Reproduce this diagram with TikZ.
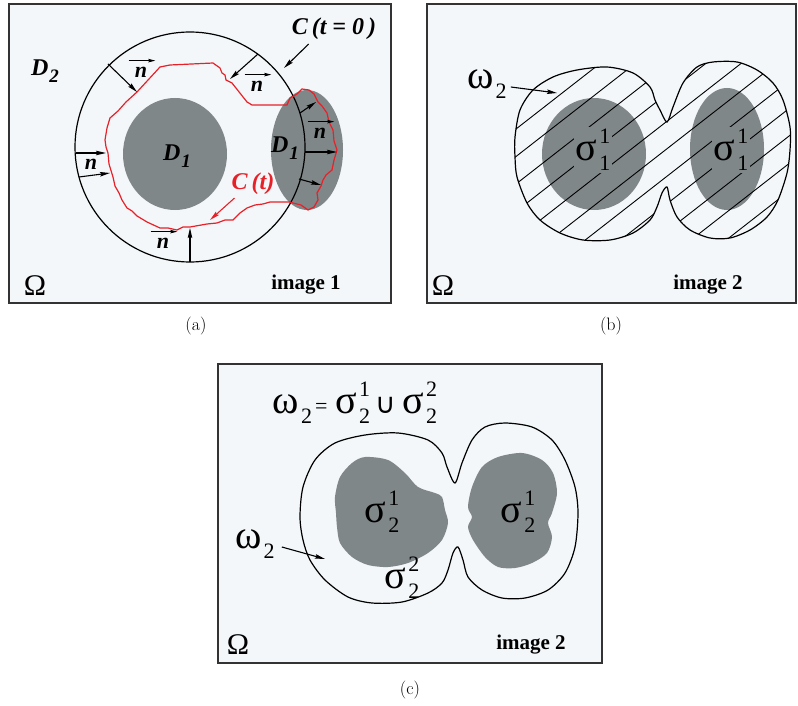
\documentclass[tikz,border=0pt]{standalone}
\usepackage{fontspec}
\newfontfamily\tms{Liberation Serif}
\newfontfamily\dvs{DejaVu Sans}
\usetikzlibrary{arrows.meta}
\definecolor{pbg}{RGB}{244,247,249}
\definecolor{pgray}{RGB}{128,135,137}
\definecolor{pred}{RGB}{232,32,40}
\newcommand{\fs}[1]{\fontsize{#1}{#1}\selectfont}
% greek letter with stacked indices
\newcommand{\grk}[3]{#1\kern2pt\rlap{\raisebox{0.42em}{\fs{22}#2}}\raisebox{-0.26em}{\fs{22}#3}}
\newcommand{\dsub}[2]{#1\kern1pt\raisebox{-0.3em}{\fs{19}#2}}

\begin{document}
\begin{tikzpicture}[x=1pt, y=-1pt,
  panel/.style={draw=black!80, line width=1.5pt, fill=pbg},
  region/.style={fill=pgray},
  outline/.style={draw=black, line width=1.2pt},
  lbl/.style={font=\tms\bfseries\itshape\fs{24}, inner sep=0pt},
  corner/.style={font=\tms\fs{30}, inner sep=0pt},
  tag/.style={font=\tms\bfseries\fs{21}, inner sep=0pt},
  grk/.style={font=\tms\fs{40}, inner sep=0pt},
  subcap/.style={font=\fs{18}, inner sep=0pt},
  arr/.style={-{Stealth[length=10pt,width=4.5pt,inset=1.5pt]}, line width=1.1pt},
  vec/.style={-{Stealth[length=7pt,width=3.5pt,inset=1pt]}, line width=0.9pt},
  nv/.style={lbl, font=\tms\bfseries\itshape\fs{22},
    append after command={([xshift=-6pt,yshift=6pt]\tikzlastnode.north west)
      edge[vec] ([xshift=8pt,yshift=6pt]\tikzlastnode.north east)}},
  hatch/.style={line width=0.9pt}
]
\useasboundingbox (0,0) rectangle (798,706);

% ---------- (a) image 1
\draw[panel] (9,4) rectangle (391,303);
\fill[region] (175,154) ellipse [x radius=52pt, y radius=56pt];
\fill[region] (307,150) ellipse [x radius=36pt, y radius=60pt];
\draw[outline] (190,147) circle [radius=115pt];
\draw[pred, line width=1.2pt] (137,92) -- (160,67) -- (170,65) -- (213,63) -- (220,68)
  -- (222,73) -- (225,75) -- (226,80) -- (232,83) -- (247,102) -- (252,105) -- (287,105)
  -- (290,98) -- (297,94) -- (302,89) -- (309,90) -- (314,94) -- (318,102) -- (322,106)
  -- (327,113) -- (329,122) -- (333,130) -- (334,141) -- (337,150) -- (334,160) -- (332,170)
  -- (326,175) -- (323,180) -- (321,186) -- (317,193) -- (318,200) -- (314,207) -- (308,210)
  -- (301,205) -- (293,203) -- (290,202) -- (270,202) -- (263,204) -- (255,205) -- (247,208)
  -- (240,213) -- (233,220) -- (225,220) -- (217,223) -- (207,224) -- (190,227) -- (183,227)
  -- (177,230) -- (168,228) -- (160,228) -- (147,222) -- (137,216) -- (132,211) -- (127,208)
  -- (122,200) -- (119,193) -- (115,186) -- (113,177) -- (109,164) -- (108,153) -- (106,147)
  -- (105,140) -- (107,128) -- (110,118) -- (118,111) -- (126,102) -- cycle;

\coordinate (c1) at (108,64);  \coordinate (r1) at (137,92);
\coordinate (c2) at (258,54);  \coordinate (r2) at (230,79);
\coordinate (c3) at (76,153);  \coordinate (r3) at (106,153);
\coordinate (c4) at (79,177);  \coordinate (r4) at (110,173);
\coordinate (c5) at (190,262); \coordinate (r5) at (190,228);
\coordinate (c6) at (300,113); \coordinate (r6) at (316,102);
\coordinate (c7) at (305,152); \coordinate (r7) at (337,152);
\coordinate (c8) at (299,179); \coordinate (r8) at (321,185);
\foreach \i in {1,...,8} \draw[arr] (c\i) -- (r\i);

\node[nv] (n1) at (141,72) {n};
\node[nv] (n2) at (257,86) {n};
\node[lbl, font=\tms\bfseries\itshape\fs{22}] (n3) at (91,164) {n};
\node[nv] (n4) at (163,243) {n};
\node[nv] (n5) at (320,133) {n};

\node[lbl] (d2) at (45,71) {\dsub{D}{2}};
\node[lbl] (d1a) at (177,156) {\dsub{D}{1}};
\node[lbl] (d1b) at (285,148) {\dsub{D}{1}};
\node[lbl] (ct0) at (334,29) {C\,(t = 0\,)};
\coordinate (hit0) at (284,68);
\draw[arr] ([xshift=17pt,yshift=-4pt]ct0.south west) -- (hit0);
\node[lbl, text=pred] (ct) at (253,184) {C\,(t)};
\coordinate (hitt) at (210,220);
\draw[arr, pred] ([xshift=3pt,yshift=-3pt]ct.south west) -- (hitt);
\node[corner] (om1) at (35,286) {Ω};
\node[tag] (im1) at (306,285) {image 1};
\node[subcap] (capa) at (196,326) {(a)};

% ---------- (b) image 2
\draw[panel] (427,4) rectangle (796,303);
\fill[region] (594,154) ellipse [x radius=52pt, y radius=56pt];
\fill[region] (727,149) ellipse [x radius=37pt, y radius=61pt];
\def\blobb{(515,137) (520,110) (533,90) (553,77) (577,70) (607,67) (633,73) (650,87)
  (655,100) (660,110) (667,122) (673,107) (683,83) (697,67) (713,62) (737,62) (757,70)
  (773,83) (783,100) (790,127) (790,150) (787,173) (778,200) (767,217) (750,230)
  (730,238) (710,238) (690,230) (677,217) (670,200) (667,187) (662,193) (657,207)
  (650,220) (633,233) (610,240) (583,240) (560,233) (540,220) (527,203) (517,177)
  (515,157)}
\begin{scope}
  \clip plot[smooth cycle, tension=0.5] coordinates {\blobb};
  \foreach \c in {476.5,504,...,861.5}
    \draw[hatch] (500,{\c-390}) -- (800,{\c-624});
\end{scope}
\draw[outline] plot[smooth cycle, tension=0.5] coordinates {\blobb};
\node[grk, fill=pgray, inner sep=2pt] (s1b) at (593,150) {\grk{σ}{1}{1}};
\node[grk, fill=pgray, inner sep=2pt] (s2b) at (731,150) {\grk{σ}{1}{1}};
\node[grk] (w2b) at (487,84) {\grk{ω}{}{2}};
\coordinate (hitb) at (557,93);
\draw[arr] ([xshift=4pt,yshift=-3pt]w2b.east) -- (hitb);
\node[corner] (om2) at (443,286) {Ω};
\node[tag] (im2) at (708,285) {image 2};
\node[subcap] (capb) at (611,326) {(b)};

% ---------- (c) image 2
\draw[panel] (218,364) rectangle (602,663);
\draw[outline] plot[smooth cycle, tension=0.5] coordinates {(300,517) (303,487) (315,460)
  (335,443) (365,435) (398,433) (428,440) (442,453) (447,467) (455,483) (462,463)
  (472,440) (485,427) (505,423) (532,427) (552,440) (565,460) (575,487) (578,513)
  (575,547) (565,573) (548,590) (525,598) (502,598) (482,590) (468,577) (463,560)
  (458,547) (453,553) (448,570) (442,583) (428,593) (402,602) (372,603) (348,597)
  (325,580) (310,560) (303,540)};
\fill[region] plot[smooth cycle, tension=0.5] coordinates {(335,497) (340,477) (352,463)
  (365,457) (388,460) (405,473) (418,487) (435,493) (442,497) (445,510) (448,523)
  (442,540) (428,553) (408,563) (388,567) (368,565) (352,557) (340,543) (337,527)
  (336,513)};
\fill[region] plot[smooth cycle, tension=0.5] coordinates {(468,507) (472,487) (482,467)
  (498,457) (522,453) (542,460) (553,473) (557,493) (552,513) (548,523) (552,537)
  (547,553) (532,563) (515,568) (498,567) (485,557) (473,540) (468,527) (472,517)};
\node[grk] (eq) at (355,403) {\grk{ω}{}{2}\kern3pt{\fs{22}=}\kern8pt\grk{σ}{1}{2}%
  \kern5pt{\dvs\fs{28}∪}\kern7pt\grk{σ}{2}{2}};
\node[grk] (s1c) at (382,512) {\grk{σ}{1}{2}};
\node[grk] (s2c) at (518,512) {\grk{σ}{1}{2}};
\node[grk] (s3c) at (402,578) {\grk{σ}{2}{2}};
\node[grk] (w2c) at (255,544) {\grk{ω}{}{2}};
\coordinate (hitc) at (325,559);
\draw[arr] ([xshift=7pt,yshift=-3pt]w2c.east) -- (hitc);
\node[corner] (om3) at (238,645) {Ω};
\node[tag] (im3) at (531,645) {image 2};
\node[subcap] (capc) at (410,690) {(c)};
\end{tikzpicture}
\end{document}
